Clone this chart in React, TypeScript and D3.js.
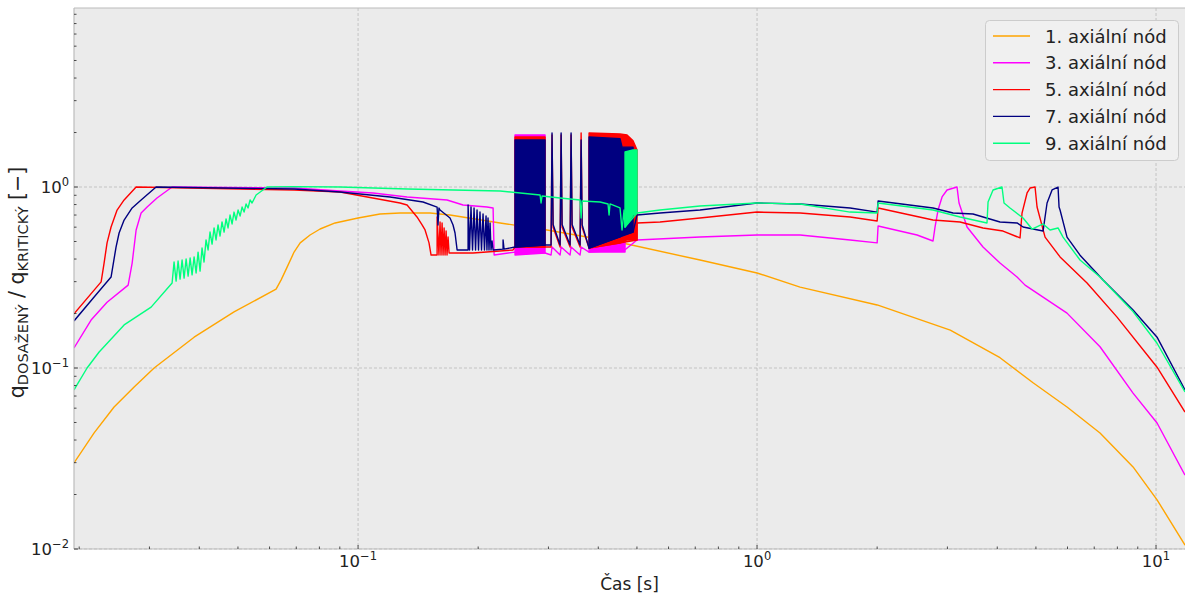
import React from "react";
import * as d3 from "d3";

type Pt = [number, number];
type Band = [number, number, number]; // t, low, high of a fast oscillation envelope

const seriesNames = ["1. axiální nód", "3. axiální nód", "5. axiální nód", "7. axiální nód", "9. axiální nód"];
const seriesColors = ["#ffa500", "#ff00ff", "#ff0000", "#000080", "#00ff7f"];

// [t (s), q_dosažený / q_kritický]
const node1: Pt[] = [
  [0.01941, 0.0299], [0.0218, 0.0438], [0.02446, 0.0609], [0.02746, 0.0785], [0.03082, 0.1],
  [0.03882, 0.148], [0.04888, 0.204], [0.0623, 0.273], [0.0641, 0.306], [0.0664, 0.361],
  [0.06912, 0.437], [0.0716, 0.491], [0.0758, 0.543], [0.08032, 0.586], [0.0876, 0.633],
  [0.1, 0.674], [0.1135, 0.709], [0.1274, 0.718], [0.1515, 0.718], [0.17, 0.7], [0.227, 0.633],
  [0.2976, 0.579], [0.4722, 0.484], [0.7196, 0.395], [1.0, 0.335], [1.282, 0.28], [2.0, 0.223],
  [3.05, 0.162], [4.064, 0.114], [4.918, 0.0829], [5.983, 0.0609], [7.238, 0.0437],
  [8.758, 0.0284], [10.06, 0.0187], [11.82, 0.0105],
];

const node3: Pt[] = [
  [0.01941, 0.129], [0.02142, 0.184], [0.02349, 0.231], [0.02653, 0.287], [0.02715, 0.38],
  [0.02778, 0.579], [0.02859, 0.718], [0.0296, 0.775], [0.03134, 0.87], [0.03419, 1.0],
  [0.06912, 0.987], [0.09012, 0.95], [0.109, 0.927], [0.1327, 0.881], [0.1671, 0.848],
  [0.1833, 0.795], [0.2104, 0.775], [0.218, 0.766], [0.2193, 0.421], [0.2474, 0.437],
  [0.2942, 0.432], [0.3046, 0.421], [0.3063, 0.466], [0.3209, 0.421], [0.3228, 0.466],
  [0.3399, 0.421], [0.3419, 0.466], [0.3601, 0.421], [0.3623, 0.466], [0.3793, 0.437],
  [0.4668, 0.45], [0.5003, 0.51], [0.7196, 0.529], [1.0, 0.543], [1.282, 0.543], [1.711, 0.51],
  [2.0, 0.491], [2.011, 0.609], [2.518, 0.543], [2.761, 0.503], [2.793, 0.601], [2.842, 0.746],
  [2.909, 0.881], [2.994, 0.963], [3.171, 1.0], [3.208, 0.816], [3.36, 0.601], [3.684, 0.466],
  [4.064, 0.38], [4.484, 0.318], [4.696, 0.287], [5.983, 0.201], [7.238, 0.131], [8.758, 0.0727],
  [10.06, 0.0497], [11.82, 0.0256],
];

const node5: Pt[] = [
  [0.01941, 0.199], [0.0227, 0.299], [0.02309, 0.38], [0.02349, 0.491], [0.02404, 0.601],
  [0.02489, 0.746], [0.02592, 0.848], [0.02778, 1.0], [0.06912, 0.963], [0.09012, 0.938],
  [0.1274, 0.816], [0.1327, 0.795], [0.1405, 0.683], [0.1447, 0.617], [0.1472, 0.579],
  [0.1506, 0.491], [0.1524, 0.421], [0.1578, 0.421], [0.1578, 0.683], [0.1595, 0.421],
  [0.1605, 0.641], [0.1614, 0.421], [0.1624, 0.633], [0.1633, 0.421], [0.1643, 0.594],
  [0.1652, 0.421], [0.1662, 0.571], [0.1671, 0.421], [0.1681, 0.529], [0.1691, 0.432],
  [0.1941, 0.432], [0.2446, 0.449], [0.2474, 0.466], [0.2942, 0.466], [0.3046, 0.466],
  [0.3063, 1.938], [0.3082, 0.6], [0.3209, 0.466], [0.3228, 1.938], [0.3246, 0.6],
  [0.3399, 0.466], [0.3419, 1.938], [0.3439, 0.6], [0.3601, 0.466], [0.3623, 1.987],
  [0.3644, 0.6], [0.3793, 0.46], [0.5003, 0.51], [0.5003, 0.633], [0.5713, 0.641],
  [0.7196, 0.674], [1.0, 0.727], [1.282, 0.718], [1.711, 0.683], [2.0, 0.649], [2.011, 0.766],
  [2.761, 0.657], [3.227, 0.641], [3.684, 0.594], [4.136, 0.571], [4.562, 0.523], [4.615, 0.718],
  [4.751, 0.927], [4.834, 0.987], [4.975, 1.0], [5.033, 0.775], [5.271, 0.529], [5.747, 0.411],
  [6.716, 0.295], [7.986, 0.191], [10.06, 0.101], [11.82, 0.0571],
];

const node7: Pt[] = [
  [0.01941, 0.182], [0.0218, 0.247], [0.02404, 0.318], [0.02474, 0.466], [0.02518, 0.557],
  [0.02592, 0.657], [0.02715, 0.766], [0.02859, 0.848], [0.03117, 1.0], [0.06912, 0.975],
  [0.09012, 0.938], [0.1203, 0.881], [0.1455, 0.826], [0.1578, 0.775], [0.1586, 0.617],
  [0.1595, 0.766], [0.1605, 0.746], [0.17, 0.674], [0.173, 0.617], [0.175, 0.557], [0.1771, 0.449],
  [0.1887, 0.449], [0.1887, 0.795], [0.1903, 0.449], [0.1919, 0.775], [0.1936, 0.449],
  [0.1953, 0.766], [0.197, 0.449], [0.1987, 0.746], [0.2004, 0.449], [0.2021, 0.727],
  [0.2039, 0.449], [0.2057, 0.709], [0.2074, 0.449], [0.2093, 0.691], [0.2104, 0.449],
  [0.2117, 0.674], [0.2129, 0.449], [0.2142, 0.633], [0.2154, 0.449], [0.2167, 0.503],
  [0.218, 0.449], [0.2309, 0.454], [0.2309, 0.51], [0.2322, 0.454], [0.2474, 0.466],
  [0.2942, 0.478], [0.3046, 0.478], [0.3063, 1.987], [0.3082, 0.62], [0.3209, 0.478],
  [0.3228, 1.987], [0.3246, 0.62], [0.3399, 0.478], [0.3419, 1.987], [0.3439, 0.62],
  [0.3601, 0.478], [0.3623, 1.818], [0.3644, 0.62], [0.3793, 0.46], [0.4889, 0.564],
  [0.5003, 0.7], [0.5713, 0.718], [0.7196, 0.746], [1.0, 0.816], [1.282, 0.806], [1.711, 0.766],
  [2.0, 0.727], [2.011, 0.837], [2.761, 0.766], [3.099, 0.718], [3.478, 0.709], [4.064, 0.641],
  [4.484, 0.633], [4.642, 0.601], [5.21, 0.571], [5.332, 0.816], [5.488, 0.963], [5.681, 1.0],
  [5.714, 0.775], [5.747, 0.746], [5.983, 0.529], [6.449, 0.42], [7.366, 0.306], [8.758, 0.209],
  [10.06, 0.148], [11.82, 0.0756],
];

const node9: Pt[] = [
  [0.01941, 0.0756], [0.02093, 0.1], [0.02244, 0.1226], [0.02592, 0.173], [0.03029, 0.217],
  [0.03419, 0.295], [0.03458, 0.385], [0.03499, 0.302], [0.03539, 0.39], [0.0358, 0.31],
  [0.03622, 0.395], [0.03664, 0.314], [0.03707, 0.4], [0.0375, 0.322], [0.03794, 0.405],
  [0.03837, 0.327], [0.03882, 0.411], [0.03927, 0.335], [0.03972, 0.437], [0.04018, 0.343],
  [0.04064, 0.46], [0.04111, 0.385], [0.04159, 0.51], [0.04208, 0.449], [0.04256, 0.564],
  [0.04306, 0.484], [0.04356, 0.594], [0.04406, 0.51], [0.04457, 0.617], [0.04509, 0.536],
  [0.04561, 0.641], [0.04615, 0.564], [0.04668, 0.666], [0.04722, 0.594], [0.04777, 0.7],
  [0.04833, 0.625], [0.04888, 0.727], [0.04945, 0.657], [0.05003, 0.746], [0.05062, 0.691],
  [0.0512, 0.775], [0.0518, 0.727], [0.0524, 0.806], [0.053, 0.766], [0.05362, 0.848],
  [0.05424, 0.816], [0.05552, 0.903], [0.05913, 1.0], [0.06912, 1.005], [0.09012, 1.0],
  [0.1327, 0.975], [0.227, 0.95], [0.2859, 0.903], [0.2875, 0.816], [0.2892, 0.892],
  [0.3209, 0.87], [0.3601, 0.848], [0.3623, 0.674], [0.3644, 0.837], [0.4042, 0.826],
  [0.4232, 0.806], [0.4257, 0.7], [0.4281, 0.806], [0.4535, 0.766], [0.4588, 0.579],
  [0.4642, 0.746], [0.4668, 0.6], [0.5003, 0.718], [0.5713, 0.746], [0.7196, 0.785], [1.0, 0.816],
  [1.282, 0.806], [1.711, 0.727], [2.0, 0.718], [2.011, 0.816], [2.761, 0.746], [3.227, 0.683],
  [3.77, 0.633], [3.793, 0.826], [3.904, 0.963], [4.111, 1.0], [4.159, 0.816], [4.306, 0.766],
  [4.642, 0.674], [4.89, 0.586], [5.21, 0.625], [5.425, 0.579], [5.681, 0.594], [5.847, 0.529],
  [6.449, 0.395], [7.238, 0.318], [8.758, 0.205], [10.06, 0.137], [11.82, 0.0737],
];

// envelopes of the chattering intervals (too dense to draw point by point)
const node3Bands: Band[][] = [
  [[0.2474, 0.421, 1.938], [0.2942, 0.432, 1.938]],
  [[0.3793, 0.437, 1.8], [0.4668, 0.437, 1.8]],
  [[0.4668, 0.718, 0.848], [0.5003, 0.718, 0.848]],
];
const node5Bands: Band[][] = [
  [[0.2474, 0.466, 1.889], [0.2942, 0.466, 1.889]],
  [[0.3793, 0.46, 1.987], [0.4535, 0.49, 1.963], [0.4722, 0.51, 1.94], [0.4889, 0.51, 1.8], [0.5003, 0.51, 1.601]],
];
const node7Bands: Band[][] = [
  [[0.2474, 0.466, 1.818], [0.2942, 0.478, 1.818]],
  [[0.3793, 0.46, 1.889], [0.4535, 0.53, 1.85], [0.4588, 0.54, 1.66], [0.4889, 0.564, 1.66]],
];
const node9Bands: Band[][] = [
  [[0.4668, 0.6, 1.561], [0.4889, 0.7, 1.601], [0.5003, 0.718, 1.601]],
];

const seriesPoints = [node1, node3, node5, node7, node9];
const seriesBands = [[], node3Bands, node5Bands, node7Bands, node9Bands];

const xDomain = [0.01941, 11.82];
const yDomain = [0.01, 9.75];
const xMajor = [0.1, 1, 10];
const yMajor = [0.01, 0.1, 1];

const W = 1185;
const H = 597;
const left = 74, right = 1185, top = 8, bottom = 549;
const font = "DejaVu Sans, Verdana, sans-serif";

function PowLabel({ v, x, y, anchor }: { v: number; x: number; y: number; anchor: string }) {
  const e = Math.round(Math.log10(v));
  const s = e < 0 ? "\u2212" + Math.abs(e) : String(e);
  return (
    <text x={x} y={y} textAnchor={anchor} fontSize={16.5} fill="#222" fontFamily={font}>
      <tspan>10</tspan>
      <tspan dy={-7} fontSize={11.5}>{s}</tspan>
    </text>
  );
}

export default function App() {
  const x = d3.scaleLog().domain(xDomain).range([left, right]);
  const y = d3.scaleLog().domain(yDomain).range([bottom, top]);

  const line = d3.line<Pt>().x((d) => x(d[0])).y((d) => y(d[1]));
  const area = d3.area<Band>().x((d) => x(d[0])).y0((d) => y(d[1])).y1((d) => y(d[2]));

  const xTicks = x.ticks();
  const yTicks = y.ticks();
  const isMajor = (v: number) => Math.abs(Math.log10(v) - Math.round(Math.log10(v))) < 1e-6;

  return (
    <svg width={W} height={H} style={{ position: "absolute", left: 0, top: 0, background: "#fff" }}>
      <defs>
        <clipPath id="plotArea">
          <rect x={left} y={top} width={right - left} height={bottom - top} />
        </clipPath>
      </defs>
      <rect x={left} y={top} width={right - left} height={bottom - top} fill="#ebebeb" />

      {xMajor.map((v) => (
        <line key={"gx" + v} x1={x(v)} x2={x(v)} y1={top} y2={bottom} stroke="#b2b2b2" strokeWidth={0.7} strokeDasharray="3,2" />
      ))}
      {yMajor.map((v) => (
        <line key={"gy" + v} x1={left} x2={right} y1={y(v)} y2={y(v)} stroke="#b2b2b2" strokeWidth={0.7} strokeDasharray="3,2" />
      ))}

      <g clipPath="url(#plotArea)">
        {seriesPoints.map((pts, i) => (
          <g key={"s" + i}>
            {seriesBands[i].map((b, j) => (
              <path key={j} d={area(b) || ""} fill={seriesColors[i]} stroke={seriesColors[i]} strokeWidth={1.4} strokeLinejoin="round" />
            ))}
            <path d={line(pts) || ""} fill="none" stroke={seriesColors[i]} strokeWidth={1.4} strokeLinejoin="round" />
          </g>
        ))}
      </g>

      <line x1={left} x2={left} y1={top} y2={bottom} stroke="#bcbcbc" strokeWidth={1.2} />
      <line x1={left} x2={right} y1={top} y2={top} stroke="#bcbcbc" strokeWidth={1.2} />
      <line x1={left} x2={right} y1={bottom} y2={bottom} stroke="#bcbcbc" strokeWidth={1.2} />

      {xTicks.map((v, i) => (
        <line key={"tx" + i} x1={x(v)} x2={x(v)} y1={bottom} y2={bottom - (isMajor(v) ? 4 : 2.5)} stroke="#222" strokeWidth={0.8} />
      ))}
      {yTicks.map((v, i) => (
        <line key={"ty" + i} x1={left} x2={left + (isMajor(v) ? 4 : 2.5)} y1={y(v)} y2={y(v)} stroke="#222" strokeWidth={0.8} />
      ))}

      {xMajor.map((v) => (
        <PowLabel key={"lx" + v} v={v} x={x(v)} y={567} anchor="middle" />
      ))}
      {yMajor.map((v) => (
        <PowLabel key={"ly" + v} v={v} x={69} y={y(v) + 6} anchor="end" />
      ))}

      <text x={(left + right) / 2} y={590} textAnchor="middle" fontSize={17} fill="#222" fontFamily={font}>
        Čas [s]
      </text>
      <text transform={`translate(24, ${(top + bottom) / 2 + 4}) rotate(-90)`} textAnchor="middle" fontSize={20.5} fill="#222" fontFamily={font}>
        <tspan>q</tspan>
        <tspan dy={4} fontSize={14.5}>DOSAŽENÝ</tspan>
        <tspan dy={-4}> / q</tspan>
        <tspan dy={4} fontSize={14.5}>KRITICKÝ</tspan>
        <tspan dy={-4}> [−]</tspan>
      </text>

      <g>
        <rect x={985.5} y={20.5} width={193} height={140} rx={4} fill="#f0f0f0" stroke="#cccccc" strokeWidth={1} />
        {seriesNames.map((n, i) => {
          const ry = 36 + i * 26.8;
          return (
            <g key={n}>
              <line x1={993} x2={1030} y1={ry} y2={ry} stroke={seriesColors[i]} strokeWidth={1.4} />
              <text x={1045} y={ry + 6.5} fontSize={18} fill="#222" fontFamily={font}>
                {n}
              </text>
            </g>
          );
        })}
      </g>
    </svg>
  );
}
